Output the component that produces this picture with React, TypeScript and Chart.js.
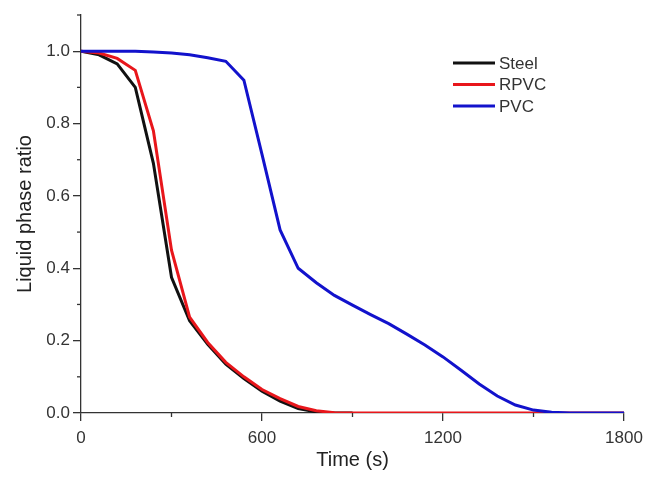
import React, { useEffect, useRef } from 'react';
import { Chart, registerables } from 'chart.js';

Chart.register(...registerables);

// ---- data ----
const timeS = [
  0, 60, 120, 180, 240, 300, 360, 420, 480, 540, 600, 660, 720, 780, 840, 900,
  960, 1020, 1080, 1140, 1200, 1260, 1320, 1380, 1440, 1500, 1560, 1620, 1680, 1740, 1800,
];

const steelRatio = [
  1.0, 0.99, 0.965, 0.9, 0.69, 0.375, 0.255, 0.19, 0.135, 0.095, 0.06, 0.033, 0.012, 0.003, 0.0, 0.0,
];

const rpvcRatio = [
  1.0, 0.995, 0.98, 0.947, 0.78, 0.45, 0.265, 0.195, 0.14, 0.1, 0.065, 0.04, 0.018, 0.006, 0.001, 0.0,
  0, 0, 0, 0, 0, 0, 0, 0, 0, 0, 0, 0, 0, 0, 0,
];

const pvcRatio = [
  1.0, 1.0, 1.0, 1.0, 0.998, 0.995, 0.99, 0.982, 0.972, 0.92, 0.715, 0.506, 0.4, 0.36, 0.325, 0.298,
  0.272, 0.247, 0.218, 0.188, 0.155, 0.118, 0.08, 0.047, 0.022, 0.008, 0.002, 0.0, 0.0, 0.0, 0.0,
];

const seriesLabels = ['Steel', 'RPVC', 'PVC'];
const seriesColors = ['#111111', '#e8161b', '#1212cc'];

const xTickLabels = [0, 600, 1200, 1800];
const yTickLabels = [0.0, 0.2, 0.4, 0.6, 0.8, 1.0];

const toPoints = (vals: number[]) => vals.map((v, i) => ({ x: timeS[i], y: v }));

const isMinorX = (v: number) => !xTickLabels.includes(Math.round(v));
const isMinorY = (v: number) => !yTickLabels.some((t) => Math.abs(t - v) < 1e-6);

const TEXT = '#333333';
const FONT = '"Liberation Sans", Arial, sans-serif';

const minorTicksPlugin = {
  id: 'minorTicks',
  afterDraw(chart: any) {
    const { ctx } = chart;
    const xs = chart.scales.x;
    const ys = chart.scales.y;
    ctx.save();
    ctx.strokeStyle = TEXT;
    ctx.lineWidth = 1.3;
    xs.ticks.forEach((t: any) => {
      if (!isMinorX(t.value)) return;
      const px = xs.getPixelForValue(t.value);
      ctx.beginPath();
      ctx.moveTo(px, xs.top);
      ctx.lineTo(px, xs.top + 4);
      ctx.stroke();
    });
    ys.ticks.forEach((t: any) => {
      if (!isMinorY(t.value)) return;
      const py = ys.getPixelForValue(t.value);
      ctx.beginPath();
      ctx.moveTo(ys.right, py);
      ctx.lineTo(ys.right - 4, py);
      ctx.stroke();
    });
    ctx.restore();
  },
};

const insideLegendPlugin = {
  id: 'insideLegend',
  afterDraw(chart: any) {
    const { ctx, chartArea } = chart;
    const x0 = chartArea.left + 372;
    const lineLen = 42;
    const y0 = chartArea.top + 48;
    const rowH = 21.5;
    ctx.save();
    ctx.font = `17px ${FONT}`;
    ctx.textBaseline = 'middle';
    ctx.textAlign = 'left';
    chart.data.datasets.forEach((ds: any, i: number) => {
      const y = y0 + i * rowH;
      ctx.strokeStyle = ds.borderColor;
      ctx.lineWidth = 3;
      ctx.beginPath();
      ctx.moveTo(x0, y);
      ctx.lineTo(x0 + lineLen, y);
      ctx.stroke();
      ctx.fillStyle = TEXT;
      ctx.fillText(ds.label, x0 + lineLen + 4, y + 1);
    });
    ctx.restore();
  },
};

export default function App() {
  const canvasRef = useRef<HTMLCanvasElement | null>(null);

  useEffect(() => {
    document.body.style.margin = '0';
    const canvas = canvasRef.current;
    if (!canvas) return;
    const chart = new Chart(canvas, {
      type: 'line',
      data: {
        datasets: [
          {
            label: seriesLabels[0],
            data: toPoints(steelRatio),
            borderColor: seriesColors[0],
            borderWidth: 3,
            pointRadius: 0,
            tension: 0,
            order: 3,
          },
          {
            label: seriesLabels[1],
            data: toPoints(rpvcRatio),
            borderColor: seriesColors[1],
            borderWidth: 3,
            pointRadius: 0,
            tension: 0,
            order: 2,
          },
          {
            label: seriesLabels[2],
            data: toPoints(pvcRatio),
            borderColor: seriesColors[2],
            borderWidth: 3,
            pointRadius: 0,
            tension: 0,
            order: 1,
          },
        ],
      },
      options: {
        responsive: false,
        animation: false,
        devicePixelRatio: 1,
        layout: { padding: { top: 15, right: 35, left: 0, bottom: 0 } },
        plugins: {
          legend: { display: false },
          tooltip: { enabled: false },
        },
        scales: {
          x: {
            type: 'linear',
            min: 0,
            max: 1800,
            afterFit: (s: any) => {
              s.height = 67;
            },
            ticks: {
              stepSize: 300,
              color: TEXT,
              font: { family: FONT, size: 17 },
              padding: 7,
              maxRotation: 0,
              autoSkip: false,
              callback: (v: any) => (isMinorX(Number(v)) ? '' : String(v)),
            },
            grid: {
              drawOnChartArea: false,
              drawTicks: true,
              tickLength: 8,
              lineWidth: 1.3,
              tickColor: (c: any) => (c.tick && isMinorX(c.tick.value) ? 'rgba(0,0,0,0)' : TEXT),
            },
            border: { display: true, color: TEXT, width: 1.3 },
            title: {
              display: true,
              text: 'Time (s)',
              color: '#222222',
              font: { family: FONT, size: 20 },
              padding: { top: 0, bottom: 8 },
            },
          },
          y: {
            type: 'linear',
            min: 0,
            max: 1.1,
            afterFit: (s: any) => {
              s.width = 81;
            },
            ticks: {
              stepSize: 0.1,
              color: TEXT,
              font: { family: FONT, size: 17 },
              padding: 3,
              autoSkip: false,
              callback: (v: any) => (isMinorY(Number(v)) ? '' : Number(v).toFixed(1)),
            },
            grid: {
              drawOnChartArea: false,
              drawTicks: true,
              tickLength: 8,
              lineWidth: 1.3,
              tickColor: (c: any) => (c.tick && isMinorY(c.tick.value) ? 'rgba(0,0,0,0)' : TEXT),
            },
            border: { display: true, color: TEXT, width: 1.3 },
            title: {
              display: true,
              text: 'Liquid phase ratio',
              color: '#222222',
              font: { family: FONT, size: 20 },
              padding: { top: 13, bottom: 0 },
            },
          },
        },
      },
      plugins: [minorTicksPlugin, insideLegendPlugin],
    } as any);
    return () => chart.destroy();
  }, []);

  return (
    <div style={{ width: 659, height: 480 }}>
      <canvas ref={canvasRef} width={659} height={480} style={{ display: 'block' }} />
    </div>
  );
}
